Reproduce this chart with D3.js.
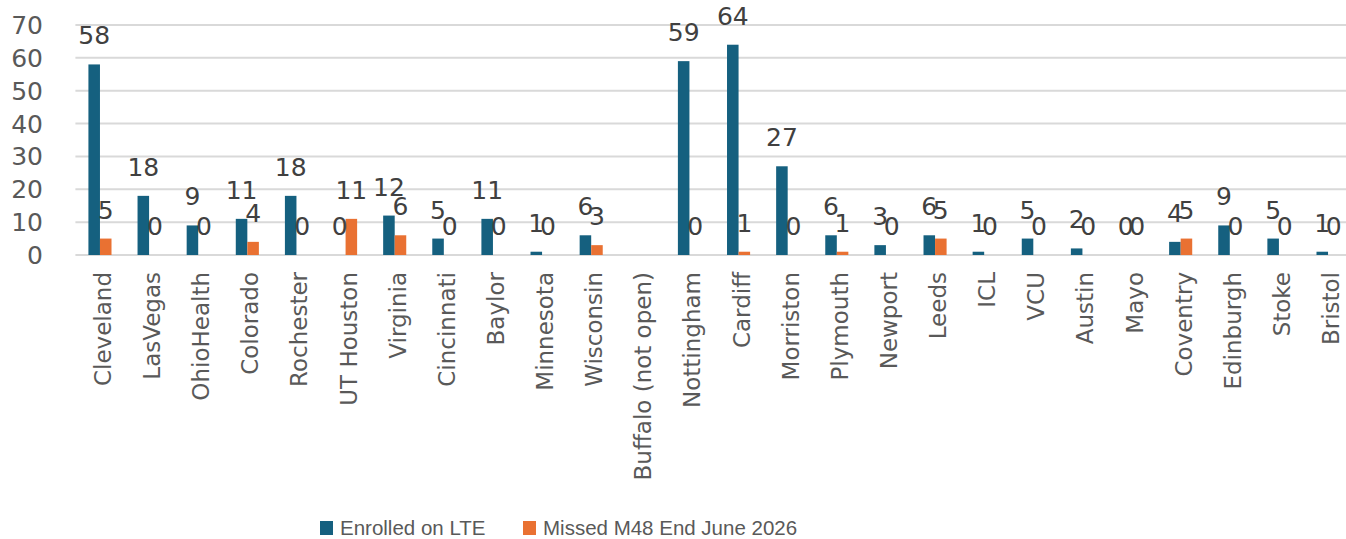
<!DOCTYPE html>
<html>
<head>
<meta charset="utf-8">
<script src="https://cdn.jsdelivr.net/npm/d3@7"></script>
<style>
  html, body { margin: 0; padding: 0; background: #fff; }
  svg { display: block; font-family: "DejaVu Sans", sans-serif; }
</style>
</head>
<body>
<svg id="chart"></svg>
<script>
const width = 1346;
const height = 539;

// data (null = no bar, no label)
const sites = ["Cleveland", "LasVegas", "OhioHealth", "Colorado", "Rochester", "UT Houston",
  "Virginia", "Cincinnati", "Baylor", "Minnesota", "Wisconsin", "Buffalo (not open)",
  "Nottingham", "Cardiff", "Morriston", "Plymouth", "Newport", "Leeds", "ICL", "VCU",
  "Austin", "Mayo", "Coventry", "Edinburgh", "Stoke", "Bristol"];
const enrolled = [58, 18, 9, 11, 18, 0, 12, 5, 11, 1, 6, null, 59, 64, 27, 6, 3, 6, 1, 5, 2, 0, 4, 9, 5, 1];
const missed   = [5, 0, 0, 4, 0, 11, 6, 0, 0, 0, 3, null, 0, 1, 0, 1, 0, 5, 0, 0, 0, 0, 5, 0, 0, 0];
const seriesNames = ["Enrolled on LTE", "Missed M48 End June 2026"];
const colors = ["#15607f", "#e97132"];
const yTicks = [0, 10, 20, 30, 40, 50, 60, 70];

const margin = { top: 25, left: 75.4, right: -6.6, bottom: 284 };

const svg = d3.select("#chart")
  .attr("width", width)
  .attr("height", height)
  .attr("viewBox", [0, 0, width, height]);

const rows = sites.map((s, i) => ({ site: s, values: [enrolled[i], missed[i]] }));

const x0 = d3.scaleBand()
  .domain(sites)
  .range([margin.left, width - margin.right])
  .paddingInner(0.53)
  .paddingOuter(0.265);

const x1 = d3.scaleBand()
  .domain([0, 1])
  .range([0, x0.bandwidth()]);

const y = d3.scaleLinear()
  .domain([0, 70])
  .range([height - margin.bottom, margin.top]);

// gridlines
svg.append("g")
  .selectAll("line")
  .data(yTicks)
  .join("line")
  .attr("x1", margin.left)
  .attr("x2", width)
  .attr("y1", d => y(d))
  .attr("y2", d => y(d))
  .attr("stroke", "#d9d9d9")
  .attr("stroke-width", 2);

// y tick labels
svg.append("g")
  .selectAll("text")
  .data(yTicks)
  .join("text")
  .attr("x", 43)
  .attr("y", d => y(d))
  .attr("dy", "0.36em")
  .attr("text-anchor", "end")
  .attr("fill", "#595959")
  .style("font-size", "25px")
  .text(d => d);

// bars
const groups = svg.append("g")
  .selectAll("g")
  .data(rows)
  .join("g")
  .attr("transform", d => `translate(${x0(d.site)},0)`);

groups.selectAll("rect")
  .data(d => d.values.map((v, k) => ({ v, k })).filter(e => e.v !== null))
  .join("rect")
  .attr("x", d => x1(d.k))
  .attr("width", x1.bandwidth())
  .attr("y", d => y(d.v))
  .attr("height", d => y(0) - y(d.v))
  .attr("fill", d => colors[d.k]);

// data labels
groups.selectAll("text")
  .data(d => d.values.map((v, k) => ({ v, k })).filter(e => e.v !== null))
  .join("text")
  .attr("x", d => x1(d.k) + x1.bandwidth() / 2)
  .attr("y", d => y(d.v) - 20)
  .attr("text-anchor", "middle")
  .attr("fill", "#404040")
  .style("font-size", "25px")
  .text(d => d.v);

// category labels
svg.append("g")
  .selectAll("text")
  .data(sites)
  .join("text")
  .attr("transform", d => `translate(${x0(d) + x0.bandwidth() / 2 + 11},272) rotate(-90)`)
  .attr("text-anchor", "end")
  .attr("fill", "#595959")
  .style("font-size", "23px")
  .text(d => d);

// legend
const legend = svg.append("g");
const legendX = [320, 523];
seriesNames.forEach((name, i) => {
  legend.append("rect")
    .attr("x", legendX[i])
    .attr("y", 521)
    .attr("width", 13)
    .attr("height", 14)
    .attr("fill", colors[i]);
  legend.append("text")
    .attr("x", legendX[i] + 20)
    .attr("y", 535)
    .attr("fill", "#595959")
    .style("font-family", "'Liberation Sans', Arial, sans-serif")
    .style("font-size", "20.5px")
    .text(name);
});
</script>
</body>
</html>
